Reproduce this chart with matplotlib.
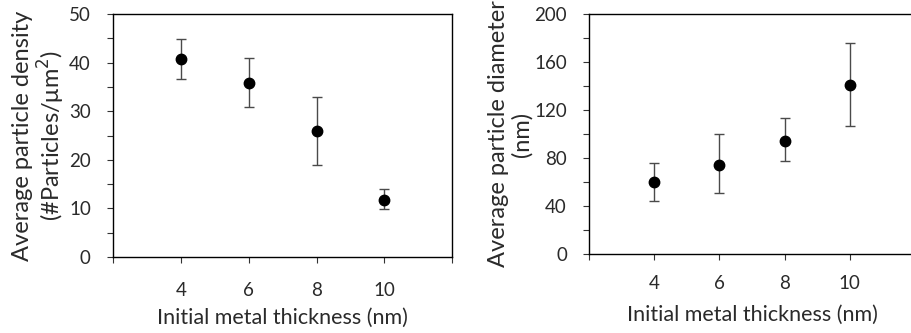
import numpy as np
import matplotlib
matplotlib.use('Agg')
import matplotlib.pyplot as plt
from matplotlib.ticker import MultipleLocator, FixedLocator

plt.rcParams['font.family'] = ['Lato', 'DejaVu Sans']

# ── data ──
thickness = [4, 6, 8, 10]
x_ticks = [2, 4, 6, 8, 10, 12]
x_labels = ['', '4', '6', '8', '10', '']

density = [40.7, 35.8, 25.9, 11.8]
density_lo = [36.7, 30.8, 19.0, 9.8]
density_hi = [44.8, 40.9, 32.9, 13.9]

diameter = [59.7, 74.5, 94.5, 141.0]
diameter_lo = [44.2, 50.8, 77.2, 106.7]
diameter_hi = [75.8, 100.0, 113.5, 175.8]

TXT = '#2a2a2a'

fig = plt.figure(figsize=(9.12, 3.33), dpi=100)
ax1 = fig.add_axes([0.124, 0.228, 0.372, 0.730])
ax2 = fig.add_axes([0.646, 0.237, 0.357, 0.721])


def draw(ax, y, lo, hi, ymax, major, ylabel, lab_x, xpad):
    y = np.array(y)
    err = [y - np.array(lo), np.array(hi) - y]
    ax.errorbar(thickness, y, yerr=err, fmt='o', color='black', ms=7.5,
                ecolor='#4a4a4a', elinewidth=1, capsize=3.8, capthick=1)
    ax.set_xlim(2, 12)
    ax.set_ylim(0, ymax)
    ax.xaxis.set_major_locator(FixedLocator(x_ticks))
    ax.set_xticklabels(x_labels)
    ax.yaxis.set_major_locator(MultipleLocator(major))
    ax.yaxis.set_minor_locator(MultipleLocator(major / 2))
    ax.tick_params(axis='both', which='major', direction='out', length=4,
                   width=0.8, labelsize=13.5, color='#333333', labelcolor=TXT)
    ax.tick_params(axis='y', which='minor', direction='out', length=4,
                   width=0.8, color='#333333')
    ax.tick_params(axis='x', pad=xpad)
    ax.tick_params(axis='y', pad=12)
    for s in ax.spines.values():
        s.set_linewidth(1.0)
    ax.set_xlabel('Initial metal thickness (nm)', fontsize=15.5, color=TXT,
                  labelpad=10 - (xpad - 10))
    ax.set_ylabel(ylabel, fontsize=17, color=TXT, linespacing=1.1)
    ax.yaxis.set_label_coords(lab_x, 0.5)


draw(ax1, density, density_lo, density_hi, 50, 10,
     'Average particle density\n(#Particles/μm$^2$)', -0.137, 14)
draw(ax2, diameter, diameter_lo, diameter_hi, 200, 40,
     'Average particle diameter\n(nm)', -0.175, 11)

fig.savefig('out.png', dpi=100)
